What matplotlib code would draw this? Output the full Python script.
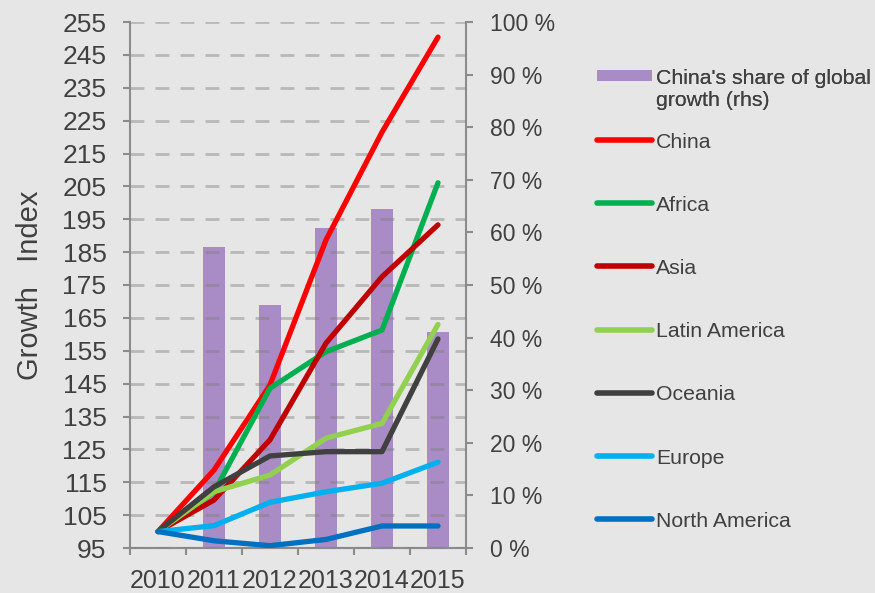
import matplotlib.pyplot as plt
import matplotlib.patches as mpatches
from matplotlib.legend_handler import HandlerPatch
import numpy as np

plt.rcParams['font.family'] = ['Liberation Sans', 'DejaVu Sans']

years = ["2010", "2011", "2012", "2013", "2014", "2015"]

# growth index, 2010 = 100
china = [100, 118.7, 144.6, 188.7, 221.5, 250.4]
africa = [100, 112.0, 143.6, 154.7, 161.3, 206.1]
asia = [100, 109.6, 127.9, 157.3, 177.5, 193.3]
latin_america = [100, 112.1, 117.2, 128.4, 132.9, 163.0]
oceania = [100, 113.6, 123.0, 124.3, 124.3, 158.6]
europe = [100, 101.8, 108.9, 112.1, 114.7, 121.1]
north_america = [100, 97.2, 95.7, 97.6, 101.7, 101.7]

# China's share of global growth, % (no bar for 2010)
share_years = ["2011", "2012", "2013", "2014", "2015"]
china_share = [57.3, 46.2, 60.8, 64.4, 41.0]

series = [
    ("China", china, "#ff0000"),
    ("Africa", africa, "#00b050"),
    ("Asia", asia, "#c00000"),
    ("Latin America", latin_america, "#92d050"),
    ("Oceania", oceania, "#404040"),
    ("Europe", europe, "#00b0f0"),
    ("North America", north_america, "#0070c0"),
]

bg = "#e6e6e6"
txt = "#404040"
spine = "#8c8c8c"
bar_color = "#a98bc6"


def top_line_patch(legend, orig_handle, xdescent, ydescent, width, height, fontsize):
    # put the swatch next to the first line of a two line label
    return mpatches.Rectangle((-xdescent, -ydescent + 12), width, 8)


fig = plt.figure(figsize=(8.75, 5.93), dpi=100, facecolor=bg)
ax = fig.add_axes([130 / 875, 45 / 593, 336 / 875, 526 / 593])
ax2 = ax.twinx()
ax.set_zorder(ax2.get_zorder() + 1)
ax.patch.set_visible(False)
ax2.set_facecolor(bg)

x = np.arange(len(years))
xs = [years.index(y) for y in share_years]
bars = ax2.bar(xs, china_share, width=0.4, color=bar_color, zorder=1,
               label="China's share of global\ngrowth (rhs)")

lines = []
for name, vals, col in series:
    ln, = ax.plot(x, vals, color=col, lw=3.8, solid_capstyle="round",
                  solid_joinstyle="round", label=name, zorder=3)
    lines.append(ln)

ax.set_xlim(-0.5, len(years) - 0.5)
ax.set_ylim(95, 255)
ax.set_yticks(np.arange(95, 256, 10))
ax2.set_ylim(0, 100)
ax2.set_yticks(np.arange(0, 101, 10))
ax2.set_yticklabels([f"{v} %" for v in range(0, 101, 10)])

ax.set_xticks(x)
ax.set_xticklabels(years)
ax.set_xticks(np.arange(-0.5, len(years), 1), minor=True)
ax.tick_params(axis="x", which="major", length=0, labelsize=18, colors=txt, pad=15)
ax.tick_params(axis="x", which="minor", length=5, width=1.5, color=spine)
ax.tick_params(axis="y", length=5, width=1.5, color=spine, labelsize=19,
               labelcolor=txt, pad=12)
ax2.tick_params(axis="y", length=5, width=1.5, color=spine, labelsize=16.5,
                labelcolor=txt, pad=12)

ax.grid(axis="y", color="gray", alpha=0.45, lw=2, linestyle=(0, (5, 4)))
ax.set_axisbelow(False)

for a in (ax, ax2):
    a.spines["top"].set_visible(False)
    for s in ("left", "right", "bottom"):
        a.spines[s].set_color(spine)
        a.spines[s].set_linewidth(1.5)
ax.spines["right"].set_visible(False)
ax2.spines["left"].set_visible(False)

ax.set_ylabel("Growth   Index", fontsize=21, color=txt, labelpad=13)

bar_handler = HandlerPatch(patch_func=top_line_patch,
                           update_func=lambda h, orig: h.set_facecolor(bar_color))
leg1 = fig.legend(handles=[bars], loc="upper left",
                  bbox_to_anchor=(588 / 875, 1 - 61 / 593),
                  frameon=False, fontsize=15.3, labelcolor=txt, handlelength=2.6,
                  handletextpad=0.2, borderaxespad=0,
                  handler_map={bars: bar_handler})
leg2 = fig.legend(handles=lines, loc="upper left",
                  bbox_to_anchor=(588 / 875, 1 - 124 / 593),
                  frameon=False, fontsize=15.3, labelcolor=txt, handlelength=2.6,
                  handletextpad=0.2, labelspacing=2.08, borderaxespad=0)
for h in leg2.legend_handles:
    h.set_linewidth(4)
fig.add_artist(leg1)

fig.savefig("out.png", dpi=100, facecolor=bg)
